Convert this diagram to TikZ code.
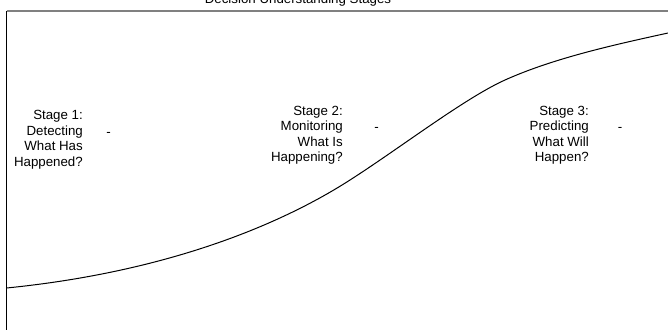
\documentclass[tikz,border=0pt]{standalone}
\usepackage{fontspec}
\setmainfont{Liberation Sans}
\begin{document}
\begin{tikzpicture}[x=1pt,y=-1pt,
  stagetext/.style={anchor=north east,align=right,inner sep=0pt,font=\fontsize{13.3}{15.5}\selectfont},
  dashtext/.style={anchor=base,inner sep=0pt,font=\fontsize{13.3}{15.5}\selectfont},
  titletext/.style={anchor=base,inner sep=0pt,font=\fontsize{13.3}{15.5}\selectfont},
  frameline/.style={line width=2pt,draw=black!50},
  axisline/.style={line width=1pt,draw=black},
  curveline/.style={line width=1pt,draw=black}]
\useasboundingbox (0,0) rectangle (668,330);
\clip (0,0) rectangle (668,330);
\fill[white] (0,0) rectangle (668,330);
\coordinate (tl) at (6.5,11);
\coordinate (tr) at (668,11);
\coordinate (bl) at (6.5,330);
\coordinate (c0) at (6.5,288);
\coordinate (c1) at (350,180);
\coordinate (c2) at (505,80);
\coordinate (c3) at (668,33);
\node[titletext] (title) at (298,3) {Decision Understanding Stages};
\draw[frameline] (tl) -- (tr);
\draw[axisline] (tl) -- (bl);
\draw[curveline] (c0) .. controls (166.5,272) and (280,225) .. (c1)
  .. controls (400,148) and (465,98) .. (c2)
  .. controls (555,57.5) and (618,44) .. (c3);
\node[stagetext] (s1) at (83,110.5) {Stage 1:\\Detecting\\What Has\\Happened?};
\node[stagetext] (s2) at (343,106) {Stage 2:\\Monitoring\\What Is\\Happening?};
\node[stagetext] (s3) at (589,106) {Stage 3:\\Predicting\\What Will\\Happen?};
\node[dashtext] (d1) at (108.5,136) {-};
\node[dashtext] (d2) at (376.5,131.5) {-};
\node[dashtext] (d3) at (620,131.5) {-};
\end{tikzpicture}
\end{document}
